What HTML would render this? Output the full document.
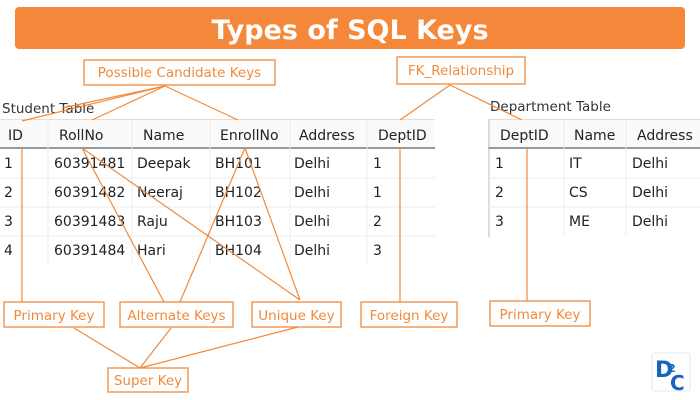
<!DOCTYPE html>
<html><head><meta charset="utf-8"><style>
html,body{margin:0;padding:0;background:#fff;}
svg{display:block}
text{font-family:"DejaVu Sans","Liberation Sans",sans-serif;}
</style></head><body>
<svg width="700" height="400" viewBox="0 0 700 400" xmlns="http://www.w3.org/2000/svg">
<rect x="15" y="7" width="670" height="42" rx="4" fill="#F5873A"/>
<text x="350" y="39" text-anchor="middle" font-size="27" font-weight="bold" fill="#fff">Types of SQL Keys</text>

<text x="2" y="113" font-size="13.5" fill="#333">Student Table</text>
<text x="490" y="111" font-size="13.5" fill="#333">Department Table</text>

<g>
<line x1="0" y1="119.5" x2="435" y2="119.5" stroke="#f3d9bf"/>
<rect x="0" y="120" width="435" height="28" fill="#fafafa"/>
<line x1="0" y1="148" x2="435" y2="148" stroke="#999" stroke-width="2"/>
<g stroke="#ececec">
<line x1="0" y1="178" x2="435" y2="178"/><line x1="0" y1="207" x2="435" y2="207"/><line x1="0" y1="236" x2="435" y2="236"/>
<line x1="48" y1="120" x2="48" y2="265"/><line x1="132" y1="120" x2="132" y2="265"/><line x1="210" y1="120" x2="210" y2="265"/><line x1="290" y1="120" x2="290" y2="265"/><line x1="367" y1="120" x2="367" y2="265"/>
</g>
<g font-size="14" fill="#222">
<text x="8" y="140">ID</text><text x="59" y="140">RollNo</text><text x="143" y="140">Name</text><text x="220" y="140">EnrollNo</text><text x="299" y="140">Address</text><text x="378" y="140">DeptID</text>
<text x="4" y="168">1</text><text x="54" y="168">60391481</text><text x="137" y="168">Deepak</text><text x="215" y="168">BH101</text><text x="294" y="168">Delhi</text><text x="373" y="168">1</text>
<text x="4" y="197">2</text><text x="54" y="197">60391482</text><text x="137" y="197">Neeraj</text><text x="215" y="197">BH102</text><text x="294" y="197">Delhi</text><text x="373" y="197">1</text>
<text x="4" y="226">3</text><text x="54" y="226">60391483</text><text x="137" y="226">Raju</text><text x="215" y="226">BH103</text><text x="294" y="226">Delhi</text><text x="373" y="226">2</text>
<text x="4" y="255">4</text><text x="54" y="255">60391484</text><text x="137" y="255">Hari</text><text x="215" y="255">BH104</text><text x="294" y="255">Delhi</text><text x="373" y="255">3</text>
</g>
</g>

<g>
<line x1="488" y1="119.5" x2="700" y2="119.5" stroke="#f3d9bf"/>
<rect x="488" y="120" width="212" height="28" fill="#fafafa"/>
<line x1="488" y1="148" x2="700" y2="148" stroke="#999" stroke-width="2"/>
<line x1="489" y1="120" x2="489" y2="237" stroke="#bbb"/>
<g stroke="#ececec">
<line x1="488" y1="178" x2="700" y2="178"/><line x1="488" y1="207" x2="700" y2="207"/>
<line x1="564" y1="120" x2="564" y2="236"/><line x1="626" y1="120" x2="626" y2="236"/>
</g>
<g font-size="14" fill="#222">
<text x="500" y="140">DeptID</text><text x="574" y="140">Name</text><text x="637" y="140">Address</text>
<text x="495" y="168">1</text><text x="569" y="168">IT</text><text x="632" y="168">Delhi</text>
<text x="495" y="197">2</text><text x="569" y="197">CS</text><text x="632" y="197">Delhi</text>
<text x="495" y="226">3</text><text x="569" y="226">ME</text><text x="632" y="226">Delhi</text>
</g>
</g>

<g stroke="#F08A3C" stroke-width="1.2" fill="none">
<line x1="165" y1="86" x2="22" y2="121"/>
<line x1="165" y1="86" x2="62" y2="108"/>
<line x1="165" y1="86" x2="92" y2="120"/>
<line x1="165" y1="86" x2="238" y2="120"/>
<line x1="450" y1="85" x2="400" y2="120"/>
<line x1="450" y1="85" x2="522" y2="120"/>
<line x1="22" y1="148" x2="22" y2="302"/>
<line x1="400" y1="148" x2="400" y2="302"/>
<line x1="527" y1="148" x2="527" y2="302"/>
<line x1="82" y1="148" x2="164" y2="302"/>
<line x1="245" y1="148" x2="180" y2="302"/>
<line x1="82" y1="148" x2="300" y2="300"/>
<line x1="245" y1="148" x2="300" y2="300"/>
<line x1="74" y1="328" x2="140" y2="368"/>
<line x1="171" y1="328" x2="140" y2="368"/>
<line x1="298" y1="327" x2="140" y2="368"/>
</g>

<g stroke="#F08A3C" stroke-width="1.3" fill="#fff">
<rect x="84" y="60" width="191" height="25"/>
<rect x="397" y="57" width="128" height="27"/>
<rect x="4" y="302" width="100" height="25"/>
<rect x="120" y="302" width="113" height="25"/>
<rect x="252" y="302" width="89" height="25"/>
<rect x="361" y="302" width="96" height="25"/>
<rect x="490" y="301" width="100" height="25"/>
<rect x="108" y="368" width="80" height="24"/>
</g>
<g font-size="13.5" fill="#F08A3C" text-anchor="middle">
<text x="179.5" y="77">Possible Candidate Keys</text>
<text x="461" y="75">FK_Relationship</text>
<text x="54" y="320">Primary Key</text>
<text x="176.5" y="320">Alternate Keys</text>
<text x="296.5" y="320">Unique Key</text>
<text x="409" y="320">Foreign Key</text>
<text x="540" y="319">Primary Key</text>
<text x="148" y="385">Super Key</text>
</g>

<rect x="652" y="353" width="38" height="38" rx="3" fill="#fff" stroke="#e0e8f5"/>
<text x="655" y="377" font-size="22" font-weight="bold" fill="#1565c0">D</text>
<text x="668" y="372" font-size="11" font-weight="bold" fill="#1565c0">2</text>
<text x="670" y="390" font-size="20" font-weight="bold" fill="#1565c0">C</text>
</svg>
</body></html>
